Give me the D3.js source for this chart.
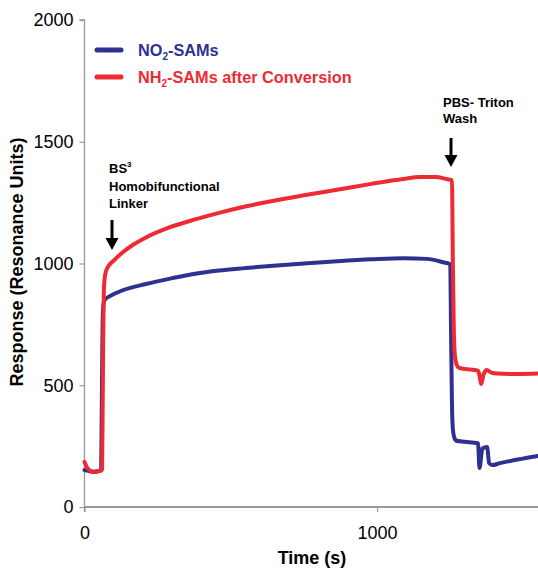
<!DOCTYPE html>
<html>
<head>
<meta charset="utf-8">
<script src="https://cdn.jsdelivr.net/npm/d3@7"></script>
<style>
html,body{margin:0;padding:0;background:#fff;}
svg{display:block;font-family:"Liberation Sans",Arial,sans-serif;}
</style>
</head>
<body>
<svg id="chart" width="538" height="569"></svg>
<script>
// ---- data ----
const timeNO2 = [0, 15, 30, 45, 55, 57, 59, 61, 63, 66, 70, 90, 130, 207, 300, 378, 460, 549, 634, 750, 863, 980, 1089, 1171, 1226, 1250, 1253, 1256, 1259, 1264, 1271, 1300, 1345, 1350, 1360, 1376, 1383, 1393, 1420, 1480, 1550];
const valNO2  = [152, 148, 145, 147, 150, 155, 400, 650, 800, 840, 852, 868, 890, 915, 940, 958, 971, 981, 990, 1000, 1009, 1017, 1022, 1019, 1005, 997, 700, 420, 320, 285, 272, 268, 262, 160, 240, 246, 180, 172, 180, 195, 210];

const timeNH2 = [0, 10, 29, 45, 58, 60, 62, 64, 66, 69, 74, 80, 100, 130, 170, 207, 290, 378, 460, 549, 651, 750, 863, 980, 1089, 1147, 1200, 1240, 1256, 1259, 1262, 1266, 1272, 1280, 1300, 1345, 1350, 1356, 1364, 1375, 1390, 1410, 1480, 1550];
const valNH2  = [185, 160, 144, 146, 150, 155, 400, 700, 880, 940, 970, 986, 1012, 1045, 1080, 1105, 1148, 1181, 1208, 1234, 1259, 1280, 1303, 1327, 1347, 1355, 1355, 1346, 1342, 1000, 750, 620, 585, 571, 567, 560, 540, 505, 545, 563, 552, 548, 546, 548];

const seriesNames = ["NO2-SAMs", "NH2-SAMs after Conversion"];
const yTicks = [0, 500, 1000, 1500, 2000];
const xTicks = [0, 1000];

// ---- layout ----
const svg = d3.select("#chart");
const x = d3.scaleLinear().domain([0, 1550]).range([84.5, 538]);
const y = d3.scaleLinear().domain([0, 2000]).range([507, 20]);

const blue = "#2e3192";
const red = "#ee2a33";

// y axis
const yAxis = d3.axisLeft(y).tickValues(yTicks).tickSize(5).tickPadding(6).tickFormat(d3.format("d"));
const gy = svg.append("g").attr("transform", `translate(${x(0)},0)`).call(yAxis);
gy.select(".domain").attr("stroke", "#999").attr("stroke-width", 1.3).attr("d", `M-5,${y(2000)}H0V${y(0)+5}`);
gy.selectAll(".tick line").attr("stroke", "#999").attr("stroke-width", 1.2);
gy.selectAll(".tick text").attr("font-size", 18).attr("fill", "#000").attr("font-family", "Liberation Sans, Arial, sans-serif");

// x axis
const xAxis = d3.axisBottom(x).tickValues(xTicks).tickSize(5).tickPadding(14).tickFormat(d3.format("d"));
const gx = svg.append("g").attr("transform", `translate(0,${y(0)})`).call(xAxis);
gx.select(".domain").attr("stroke", "#777").attr("stroke-width", 1.3).attr("d", `M${x(0)},0H538`);
gx.selectAll(".tick line").attr("stroke", "#999").attr("stroke-width", 1.2);
gx.selectAll(".tick text").attr("font-size", 18).attr("fill", "#000").attr("font-family", "Liberation Sans, Arial, sans-serif");

// axis titles
svg.append("text").attr("x", 312).attr("y", 564).attr("text-anchor", "middle")
  .attr("font-size", 18).attr("font-weight", "bold").text("Time (s)");
svg.append("text").attr("transform", "translate(23,262) rotate(-90)").attr("text-anchor", "middle")
  .attr("font-size", 18).attr("font-weight", "bold").text("Response (Resonance Units)");

// lines
const line = d3.line().x(d => x(d[0])).y(d => y(d[1])).curve(d3.curveMonotoneX);
const dNO2 = timeNO2.map((t, i) => [t, valNO2[i]]);
const dNH2 = timeNH2.map((t, i) => [t, valNH2[i]]);
svg.append("path").datum(dNO2).attr("d", line).attr("fill", "none").attr("stroke", blue)
  .attr("stroke-width", 4).attr("stroke-linejoin", "round").attr("stroke-linecap", "round");
svg.append("path").datum(dNH2).attr("d", line).attr("fill", "none").attr("stroke", red)
  .attr("stroke-width", 4).attr("stroke-linejoin", "round").attr("stroke-linecap", "round");

// legend
const leg = [{c: blue, main: "NO", sub: "2", rest: "-SAMs", y: 50}, {c: red, main: "NH", sub: "2", rest: "-SAMs after Conversion", y: 77}];
leg.forEach(l => {
  svg.append("line").attr("x1", 97).attr("x2", 121).attr("y1", l.y).attr("y2", l.y)
    .attr("stroke", l.c).attr("stroke-width", 5).attr("stroke-linecap", "round");
  const t = svg.append("text").attr("x", 138).attr("y", l.y + 6).attr("font-size", 16.3)
    .attr("font-weight", "bold").attr("fill", l.c);
  t.append("tspan").text(l.main);
  t.append("tspan").attr("font-size", 10).attr("dy", 4).text(l.sub);
  t.append("tspan").attr("dy", -4).text(l.rest);
});

// annotations
function arrow(cx, y1, y2) {
  svg.append("line").attr("x1", cx).attr("x2", cx).attr("y1", y1).attr("y2", y2 - 10)
    .attr("stroke", "#000").attr("stroke-width", 3);
  svg.append("path").attr("d", `M${cx-6.5},${y2-12}L${cx+6.5},${y2-12}L${cx},${y2}Z`).attr("fill", "#000");
}
const a1 = svg.append("text").attr("x", 109).attr("y", 173).attr("font-size", 13).attr("font-weight", "bold");
a1.append("tspan").text("BS");
a1.append("tspan").attr("font-size", 8).attr("dy", -6).text("3");
svg.append("text").attr("x", 109).attr("y", 191).attr("font-size", 13).attr("font-weight", "bold").text("Homobifunctional");
svg.append("text").attr("x", 109).attr("y", 208).attr("font-size", 13).attr("font-weight", "bold").text("Linker");
arrow(112, 220, 250);

svg.append("text").attr("x", 443).attr("y", 107).attr("font-size", 13).attr("font-weight", "bold").text("PBS- Triton");
svg.append("text").attr("x", 443).attr("y", 123).attr("font-size", 13).attr("font-weight", "bold").text("Wash");
arrow(451, 138, 167);
</script>
</body>
</html>
